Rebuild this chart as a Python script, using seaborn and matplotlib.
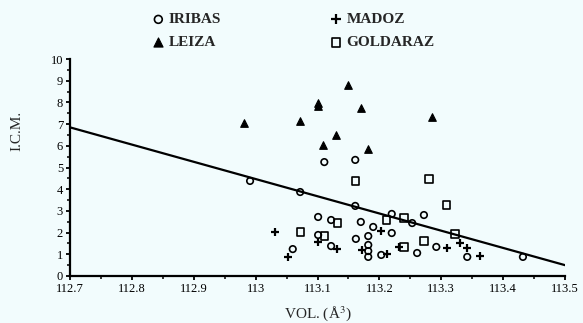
import matplotlib
matplotlib.use("Agg")
import matplotlib.pyplot as plt
from matplotlib.ticker import MultipleLocator, FixedLocator, FixedFormatter
import seaborn as sns
import pandas as pd

# --- data ---
iribas_x = [112.991, 113.072, 113.111, 113.161, 113.161, 113.220, 113.101, 113.122,
            113.170, 113.190, 113.220, 113.101, 113.162, 113.182, 113.182, 113.182,
            113.182, 113.203, 113.122, 113.060, 113.272, 113.261, 113.292, 113.342,
            113.432, 113.253]
iribas_y = [4.38, 3.87, 5.25, 5.35, 3.23, 2.86, 2.72, 2.58,
            2.49, 2.26, 1.98, 1.89, 1.71, 1.84, 1.43, 1.15,
            0.88, 0.97, 1.38, 1.24, 2.81, 1.06, 1.34, 0.88,
            0.88, 2.44]

leiza_x = [112.981, 113.072, 113.101, 113.101, 113.109, 113.130, 113.149, 113.170,
           113.182, 113.285]
leiza_y = [7.05, 7.14, 7.97, 7.85, 6.04, 6.50, 8.80, 7.74,
           5.85, 7.33]

madoz_x = [113.031, 113.052, 113.101, 113.132, 113.172, 113.203, 113.212, 113.232,
           113.309, 113.330, 113.342, 113.363]
madoz_y = [2.03, 0.88, 1.57, 1.24, 1.20, 2.07, 1.01, 1.34,
           1.29, 1.52, 1.29, 0.92]

goldaraz_x = [113.161, 113.280, 113.309, 113.211, 113.240, 113.132, 113.272, 113.240,
              113.072, 113.111, 113.322]
goldaraz_y = [4.38, 4.47, 3.27, 2.58, 2.67, 2.44, 1.61, 1.34,
              2.03, 1.84, 1.94]

# regression line end points
line_x = [112.7, 113.5]
line_y = [6.85, 0.5]

x_ticks = [112.7, 112.8, 112.9, 113.0, 113.1, 113.2, 113.3, 113.4, 113.5]
x_tick_labels = ["112.7", "112.8", "112.9", "113", "113.1", "113.2", "113.3", "113.4", "113.5"]

sns.set_style("ticks")
plt.rcParams["font.family"] = ["Liberation Serif", "DejaVu Serif"]
plt.rcParams["mathtext.fontset"] = "stix"

bg = "#F2FCFD"
fig = plt.figure(figsize=(5.83, 3.23), dpi=100, facecolor=bg)
ax = fig.add_axes([70 / 583, 47 / 323, 495 / 583, 217 / 323])
ax.set_facecolor(bg)

sns.lineplot(x=line_x, y=line_y, color="black", linewidth=1.6, ax=ax)

sns.scatterplot(x=iribas_x, y=iribas_y, marker="o", s=22, facecolor="none",
                edgecolor="black", linewidth=1.2, ax=ax, label="IRIBAS", zorder=3)
sns.scatterplot(x=leiza_x, y=leiza_y, marker="^", s=30, color="black",
                edgecolor="black", linewidth=0.8, ax=ax, label="LEIZA", zorder=3)
sns.scatterplot(x=madoz_x, y=madoz_y, marker="+", s=36, color="black",
                linewidth=1.6, ax=ax, label="MADOZ", zorder=3)
sns.scatterplot(x=goldaraz_x, y=goldaraz_y, marker="s", s=28, facecolor="none",
                edgecolor="black", linewidth=1.2, ax=ax, label="GOLDARAZ", zorder=3)

ax.set_xlim(112.7, 113.5)
ax.set_ylim(0, 10)
ax.xaxis.set_major_locator(FixedLocator(x_ticks))
ax.xaxis.set_major_formatter(FixedFormatter(x_tick_labels))
ax.xaxis.set_minor_locator(MultipleLocator(0.05))
ax.yaxis.set_major_locator(MultipleLocator(1))
ax.yaxis.set_minor_locator(MultipleLocator(0.5))
ax.tick_params(axis="both", which="major", direction="out", length=3, width=1.3,
               labelsize=9, colors="black", pad=2)
ax.tick_params(axis="both", which="minor", direction="out", length=2, width=1.3)

sns.despine(ax=ax)
for side in ["left", "bottom"]:
    ax.spines[side].set_linewidth(1.6)
    ax.spines[side].set_color("black")

ax.set_xlabel("VOL. (Å$^3$)", fontsize=11)
ax.set_ylabel("I.C.M.", fontsize=11)
ax.xaxis.set_label_coords(0.5, -0.13)
ax.yaxis.set_label_coords(-0.095, 0.67)

leg = ax.legend(loc="upper left", bbox_to_anchor=(140 / 583, 1 - 2 / 323),
                bbox_transform=fig.transFigure,
                ncol=2, frameon=False, prop={"weight": "bold", "size": 11},
                handletextpad=0.2, columnspacing=7.0, labelspacing=0.6,
                handlelength=1.0, borderaxespad=0.3, markerscale=1.2)

fig.savefig("out.png", dpi=100, facecolor=bg)
